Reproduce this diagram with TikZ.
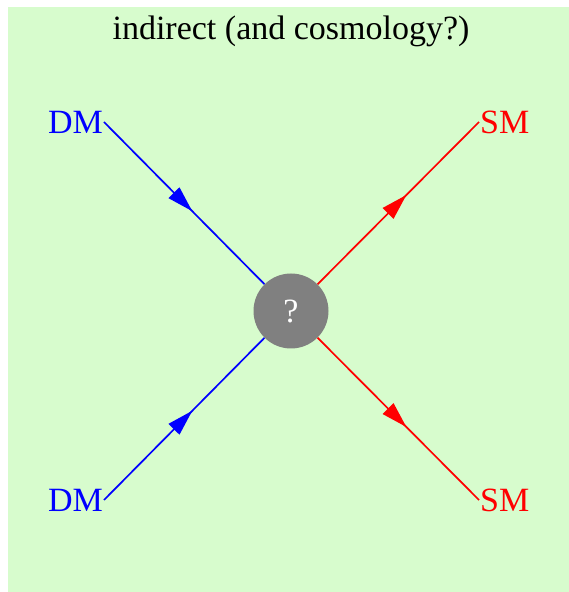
\documentclass[tikz,border=0pt]{standalone}
\usepackage{fontspec}
\setmainfont{Liberation Serif}
\usetikzlibrary{arrows.meta,decorations.markings}

\definecolor{bggreen}{RGB}{215,252,205}

\begin{document}
\begin{tikzpicture}[
  x=1pt, y=1pt,
  lbl/.style={font=\fontsize{34}{40}\selectfont, inner sep=1pt},
  blob/.style={circle, fill=gray, minimum size=75pt, inner sep=0pt, text=white, font=\fontsize{34}{40}\selectfont},
  leg/.style={line width=1.7pt, postaction={decorate}, decoration={markings,
    mark=at position 0.55 with {\arrow{Triangle[length=26pt,width=15pt]}}}}
]
\useasboundingbox (0,0) rectangle (569,592);
\fill[bggreen] (8,0) rectangle (569,585);

\node[lbl, anchor=base] (title) at (291,552) {indirect (and cosmology?)};

\node[blob] (blob) at (291,281) {?};

% incoming dark matter
\node[lbl, blue, anchor=east] (dmtop) at (104,470) {DM};
\node[lbl, blue, anchor=east] (dmbot) at (104,92) {DM};

% outgoing standard model
\node[lbl, red, anchor=west] (smtop) at (479,470) {SM};
\node[lbl, red, anchor=west] (smbot) at (479,92) {SM};

\draw[leg, blue] (dmtop.east) -- (blob);
\draw[leg, blue] (dmbot.east) -- (blob);
\draw[leg, red] (blob) -- (smtop.west);
\draw[leg, red] (blob) -- (smbot.west);

\end{tikzpicture}
\end{document}
